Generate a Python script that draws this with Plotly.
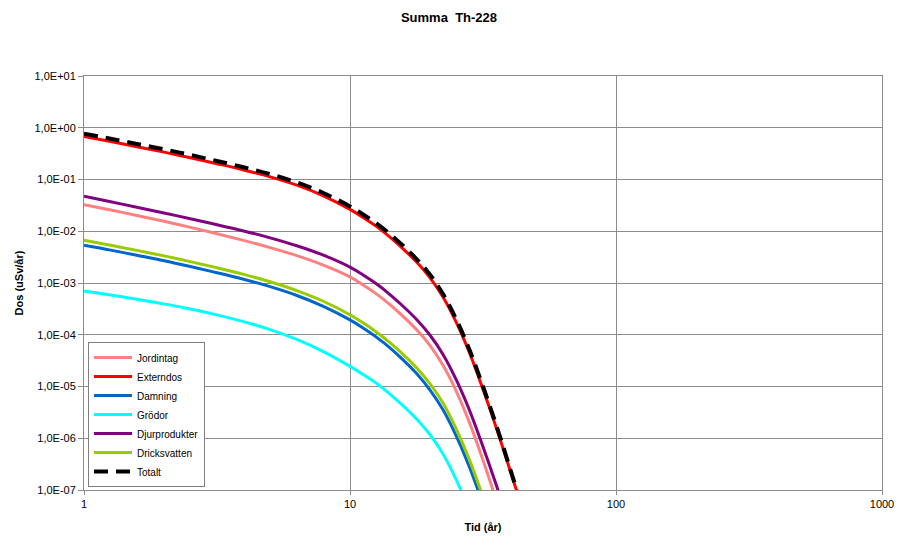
import plotly.graph_objects as go

# Time axis (år), shared by all dose series
tid = [1, 1.26, 1.58, 2.0, 2.51, 3.16, 3.98, 5.01, 6.31, 7.94, 10, 11.2,
       12.6, 14.1, 15.8, 17.8, 20.0, 22.4, 25.1, 28.2, 31.6, 35.5, 39.8, 44.7]

# Dose contributions for Th-228 (uSv/år); each list follows tid from the start
jordintag = [0.0327, 0.02582, 0.02018, 0.01556, 0.01189, 0.00895, 0.00665, 0.00483,
             0.00338, 0.00222, 0.00131, 9.14e-4, 6.10e-4, 3.86e-4, 2.29e-4, 1.25e-4,
             6.17e-5, 2.54e-5, 8.07e-6, 1.94e-6, 3.80e-7, 6.3e-8]

externdos = [0.676, 0.541, 0.430, 0.338, 0.264, 0.202, 0.153, 0.1125, 0.0776, 0.0484,
             0.0264, 0.01845, 0.0123, 7.80e-3, 4.62e-3, 2.54e-3, 1.26e-3, 5.31e-4,
             1.73e-4, 4.34e-5, 8.91e-6, 1.58e-6, 2.58e-7, 3.98e-8]

damning = [0.00537, 0.00432, 0.00343, 0.00269, 0.00208, 0.00158, 0.00118, 8.49e-4,
           5.74e-4, 3.55e-4, 1.94e-4, 1.35e-4, 8.91e-5, 5.65e-5, 3.31e-5, 1.78e-5,
           8.51e-6, 3.51e-6, 1.10e-6, 2.67e-7, 5.4e-8]

grodor = [7.03e-4, 5.87e-4, 4.86e-4, 3.95e-4, 3.14e-4, 2.42e-4, 1.79e-4, 1.26e-4,
          8.11e-5, 4.72e-5, 2.45e-5, 1.71e-5, 1.14e-5, 7.23e-6, 4.29e-6, 2.36e-6,
          1.17e-6, 4.92e-7, 1.57e-7, 3.86e-8]

djurprodukter = [0.0474, 0.03715, 0.02897, 0.02254, 0.01746, 0.01340, 0.01014, 0.00746,
                 0.00525, 0.00345, 0.00203, 1.43e-3, 9.55e-4, 6.05e-4, 3.59e-4, 1.97e-4,
                 9.77e-5, 4.12e-5, 1.34e-5, 3.37e-6, 6.92e-7, 1.23e-7, 2.0e-8]

dricksvatten = [0.0067, 0.00537, 0.00427, 0.00334, 0.00259, 0.00197, 0.00147, 0.001057,
                7.14e-4, 4.44e-4, 2.44e-4, 1.70e-4, 1.12e-4, 7.11e-5, 4.22e-5, 2.29e-5,
                1.12e-5, 4.73e-6, 1.50e-6, 3.69e-7, 7.4e-8]

totalt = [0.769, 0.614, 0.487, 0.3825, 0.2983, 0.2281, 0.1726, 0.1268, 0.0876, 0.0549,
          0.0302, 0.02112, 0.01408, 8.93e-3, 5.287e-3, 2.905e-3, 1.44e-3, 6.06e-4,
          1.97e-4, 4.94e-5, 1.01e-5, 1.77e-6, 2.78e-7, 4.1e-8]

y_ticks = [1e1, 1e0, 1e-1, 1e-2, 1e-3, 1e-4, 1e-5, 1e-6, 1e-7]
y_tick_text = ["1,0E+01", "1,0E+00", "1,0E-01", "1,0E-02", "1,0E-03", "1,0E-04",
               "1,0E-05", "1,0E-06", "1,0E-07"]
x_ticks = [1, 10, 100, 1000]
x_tick_text = ["1", "10", "100", "1000"]

series = [
    ("Jordintag", jordintag, "#FF8080", 3, "solid"),
    ("Externdos", externdos, "#FF0000", 3, "solid"),
    ("Damning", damning, "#0066CC", 3, "solid"),
    ("Grödor", grodor, "#00FFFF", 3, "solid"),
    ("Djurprodukter", djurprodukter, "#800080", 3, "solid"),
    ("Dricksvatten", dricksvatten, "#99CC00", 3, "solid"),
    ("Totalt", totalt, "#000000", 4, "14px,8px"),
]

fig = go.Figure()
for name, values, color, width, dash in series:
    fig.add_trace(go.Scatter(
        x=tid[:len(values)], y=values, name=name, mode="lines",
        line=dict(color=color, width=width, dash=dash, shape="spline", smoothing=1.0),
    ))

font_family = "Liberation Sans, Arial, sans-serif"
grid_color = "#8C8C8C"

fig.update_layout(
    width=898, height=540,
    margin=dict(l=84, r=16, t=76, b=50),
    paper_bgcolor="white", plot_bgcolor="white",
    font=dict(family=font_family, size=11, color="#000000"),
    title=dict(text="<b>Summa  Th-228</b>", x=0.5, xref="container", xanchor="center",
               y=1 - 17 / 540, yref="container", yanchor="middle",
               font=dict(size=13, family=font_family, color="#000000")),
    showlegend=True,
    legend=dict(x=0.005, y=0.007, xanchor="left", yanchor="bottom",
                bgcolor="white", bordercolor="#7F7F7F", borderwidth=1,
                font=dict(size=10, family=font_family), itemwidth=38,
                tracegroupgap=0),
)

fig.update_xaxes(
    type="log", range=[0, 3], automargin=False,
    tickvals=x_ticks, ticktext=x_tick_text,
    showgrid=True, gridcolor=grid_color, gridwidth=1,
    showline=True, linecolor=grid_color, linewidth=1, mirror=True,
    ticks="outside", ticklen=4, tickcolor=grid_color,
    tickfont=dict(size=11),
    title=dict(text="<b>Tid (år)</b>", font=dict(size=11), standoff=14),
    zeroline=False,
)
fig.update_yaxes(
    type="log", range=[-7, 1], automargin=False,
    tickvals=y_ticks, ticktext=y_tick_text,
    showgrid=True, gridcolor=grid_color, gridwidth=1,
    showline=True, linecolor=grid_color, linewidth=1, mirror=True,
    ticks="outside", ticklen=5, tickcolor=grid_color,
    tickfont=dict(size=11),
    title=dict(text="<b>Dos (uSv/år)</b>", font=dict(size=11), standoff=8),
    zeroline=False,
)

fig.write_html("out.html")
